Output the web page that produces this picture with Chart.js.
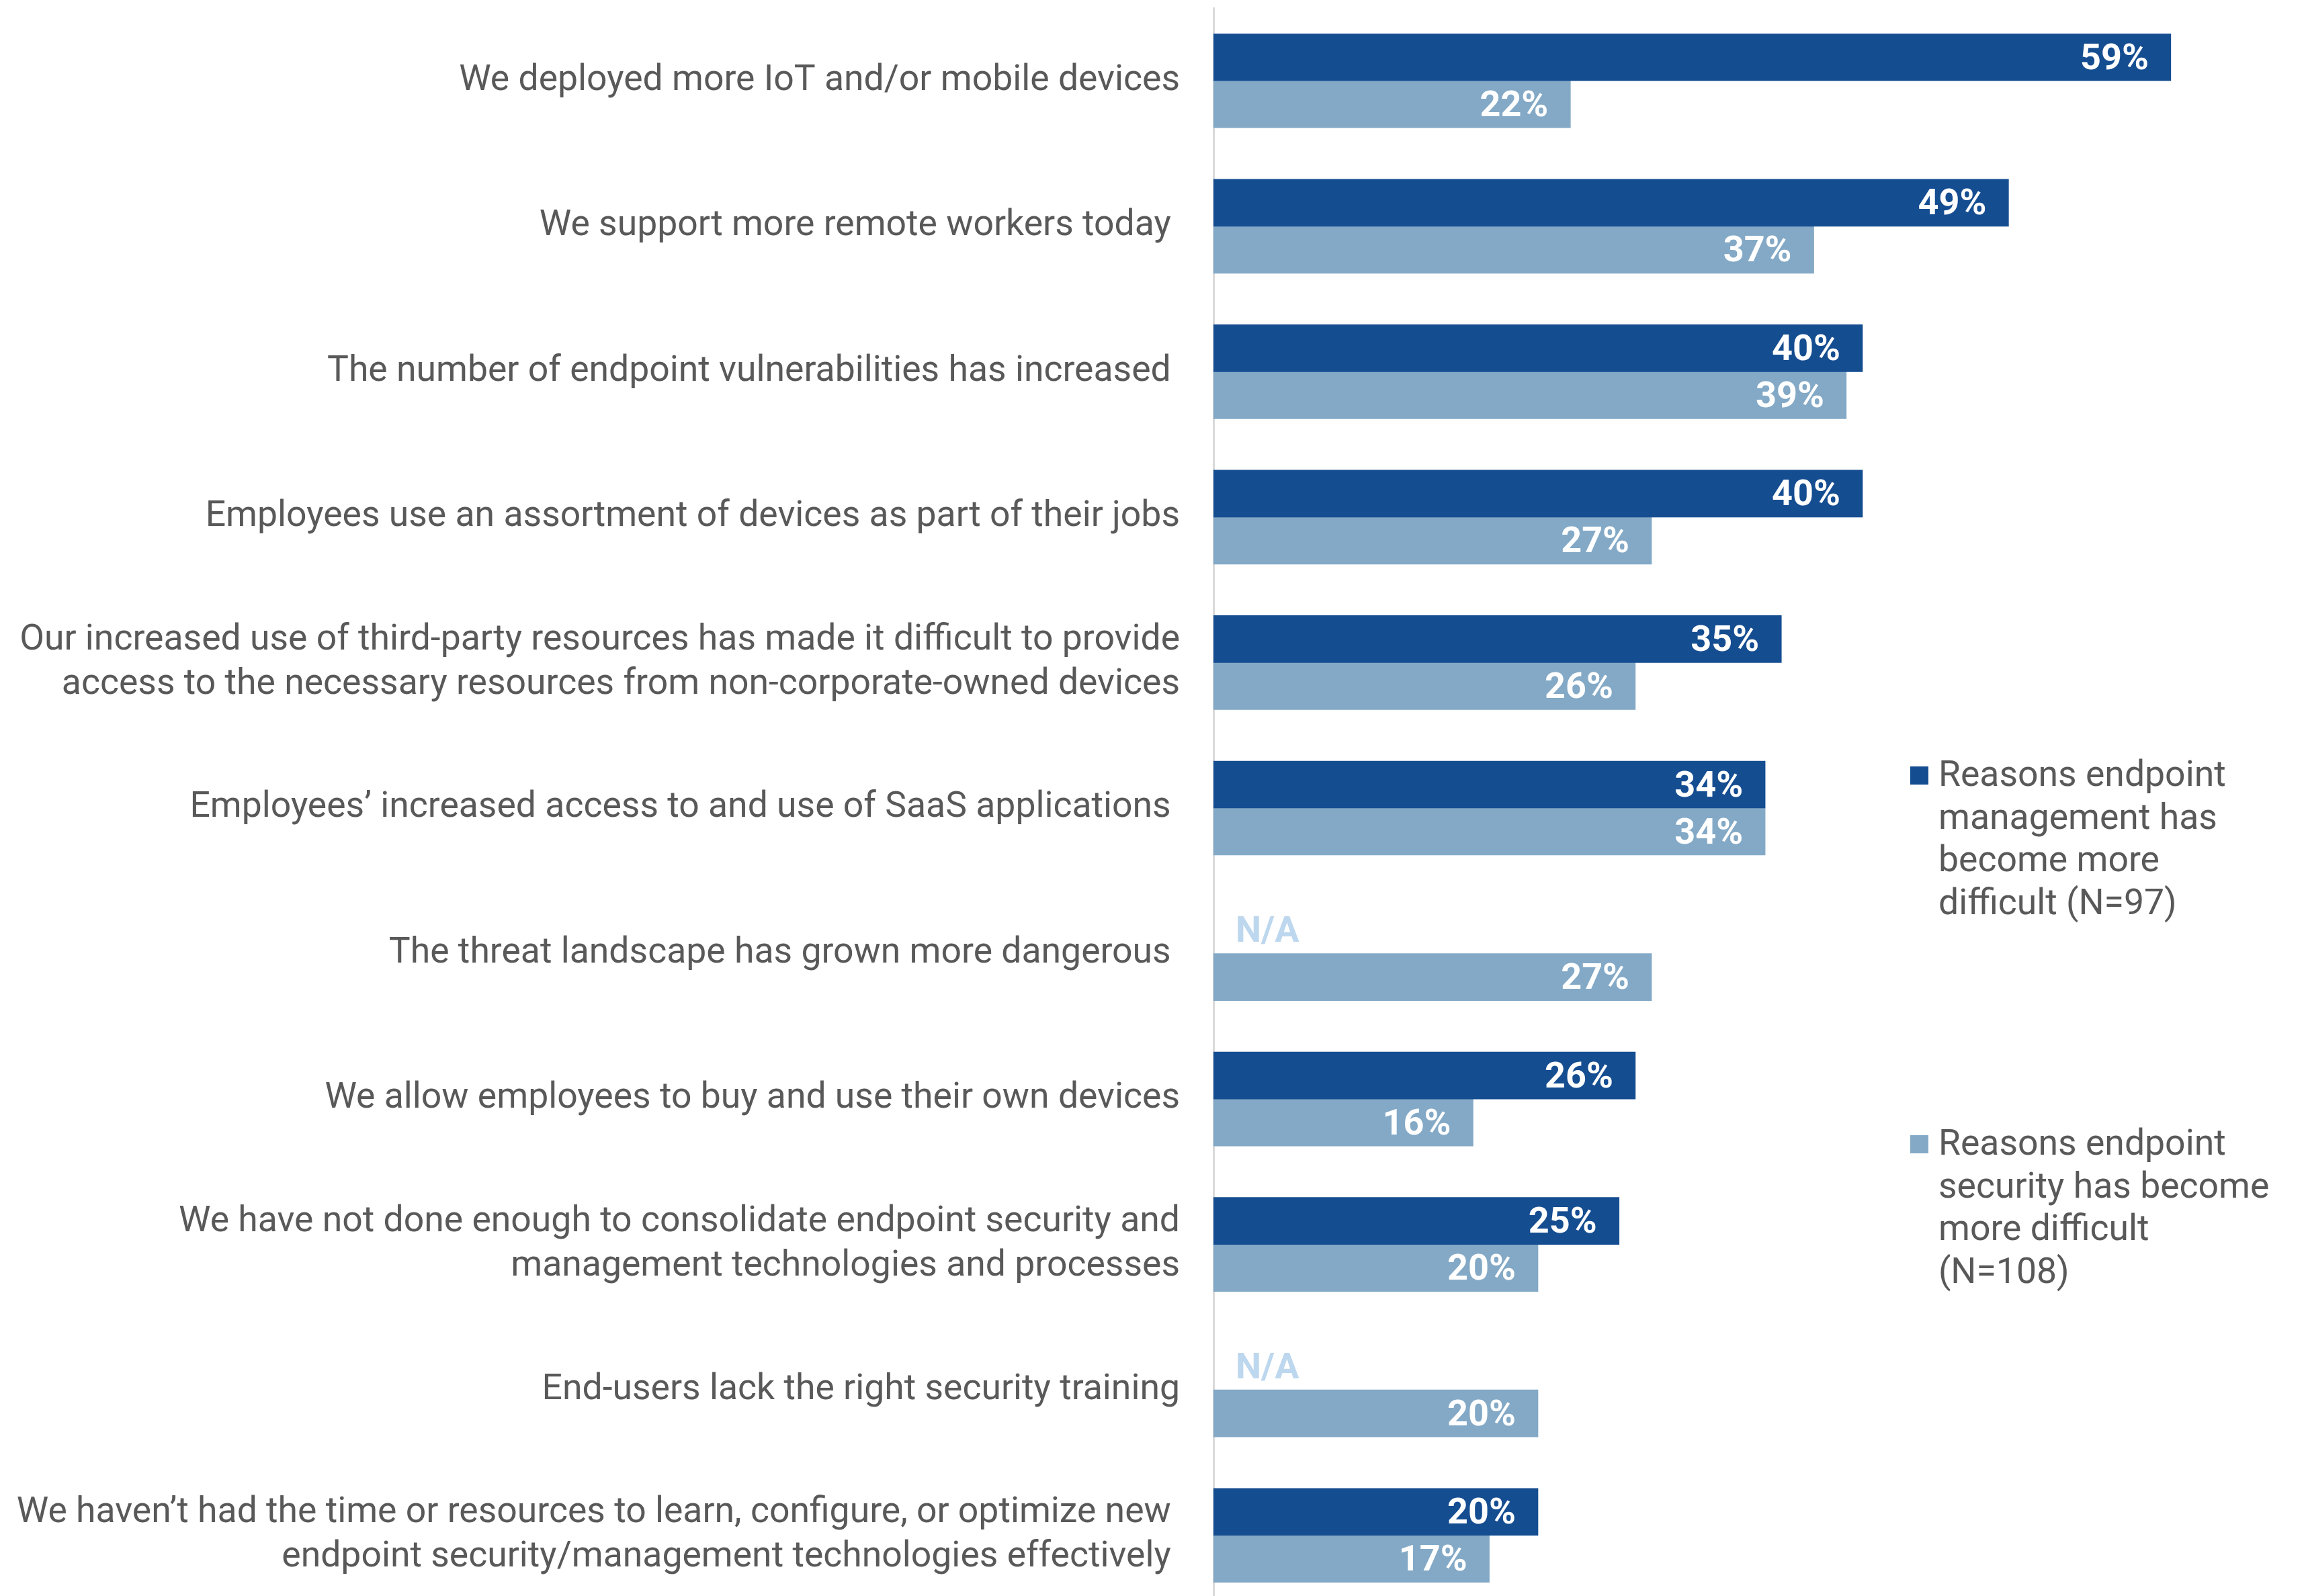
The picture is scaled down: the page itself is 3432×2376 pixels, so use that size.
<!DOCTYPE html>
<html>
<head>
<meta charset="utf-8">
<script src="https://cdn.jsdelivr.net/npm/chart.js@4.4.0/dist/chart.umd.min.js"></script>
<style>
html,body{margin:0;padding:0;background:#fff;overflow:hidden;}
#wrap{position:relative;width:3432px;height:2394px;}
</style>
</head>
<body>
<div id="wrap"><canvas id="c" width="3432" height="2394"></canvas></div>
<script>
const categories = [
  "We deployed more IoT and/or mobile devices",
  "We support more remote workers today ",
  "The number of endpoint vulnerabilities has increased ",
  "Employees use an assortment of devices as part of their jobs",
  ["Our increased use of third-party resources has made it difficult to provide", "access to the necessary resources from non-corporate-owned devices"],
  "Employees\u2019 increased access to and use of SaaS applications ",
  "The threat landscape has grown more dangerous ",
  "We allow employees to buy and use their own devices",
  ["We have not done enough to consolidate endpoint security and", "management technologies and processes"],
  "End-users lack the right security training",
  ["We haven\u2019t had the time or resources to learn, configure, or optimize new ", "endpoint security/management technologies effectively "]
];
const managementValues = [59, 49, 40, 40, 35, 34, null, 26, 25, null, 20];
const securityValues   = [22, 37, 39, 27, 26, 34, 27, 16, 20, 20, 17];
const seriesNames = ["Reasons endpoint management has become more difficult (N=97)",
                     "Reasons endpoint security has become more difficult (N=108)"];
const legendLines = [
  ["Reasons endpoint", "management has", "become more", "difficult (N=97)"],
  ["Reasons endpoint", "security has become", "more difficult", "(N=108)"]
];
const missingText = "N/A";

const DARK = "#154d91";
const LIGHT = "#83a9c6";
const NA_COLOR = "#bdd7ee";
const TEXT = "#595959";

const valueLabels = {
  id: 'valueLabels',
  afterDatasetsDraw(chart) {
    const ctx = chart.ctx;
    ctx.save();
    ctx.font = "bold 54px Roboto";
    ctx.textBaseline = "middle";
    chart.data.datasets.forEach((ds, di) => {
      const meta = chart.getDatasetMeta(di);
      meta.data.forEach((bar, i) => {
        const v = ds.data[i];
        if (v === null || v === undefined) {
          ctx.fillStyle = NA_COLOR;
          ctx.textAlign = "left";
          ctx.fillText(missingText, chart.chartArea.left + 33, bar.y + 4);
        } else {
          ctx.fillStyle = "#ffffff";
          ctx.textAlign = "right";
          ctx.fillText(v + "%", bar.x - 33, bar.y + 4);
        }
      });
    });
    ctx.restore();
  }
};

const customLegend = {
  id: 'customLegend',
  afterDraw(chart) {
    const ctx = chart.ctx;
    ctx.save();
    ctx.font = "53.5px Roboto";
    ctx.textBaseline = "middle";
    ctx.textAlign = "left";
    const tops = [1157, 1706];
    const colors = [DARK, LIGHT];
    legendLines.forEach((lines, k) => {
      ctx.fillStyle = colors[k];
      ctx.fillRect(2843, tops[k] - 16, 27, 27);
      ctx.fillStyle = TEXT;
      lines.forEach((ln, j) => ctx.fillText(ln, 2885, tops[k] + j * 63.5));
    });
    ctx.restore();
  }
};

new Chart(document.getElementById('c'), {
  type: 'bar',
  data: {
    labels: categories,
    datasets: [
      { label: seriesNames[0], data: managementValues, backgroundColor: DARK, barThickness: 70 },
      { label: seriesNames[1], data: securityValues, backgroundColor: LIGHT, barThickness: 70 }
    ]
  },
  options: {
    indexAxis: 'y',
    responsive: false,
    animation: false,
    layout: { padding: { top: 12, right: 0, bottom: 0, left: 0 } },
    plugins: { legend: { display: false }, tooltip: { enabled: false } },
    scales: {
      x: { display: false, min: 0, max: 67.33 },
      y: {
        afterFit(s) { s.width = 1806; s.paddingTop = 0; s.paddingBottom = 0; },
        grid: { display: false, drawTicks: false },
        border: { display: true, color: '#d9d9d9', width: 3 },
        ticks: { color: TEXT, font: { family: 'Roboto', size: 53.5, lineHeight: 1.23 }, padding: 50, autoSkip: false }
      }
    }
  },
  plugins: [valueLabels, customLegend]
});
</script>
</body>
</html>
